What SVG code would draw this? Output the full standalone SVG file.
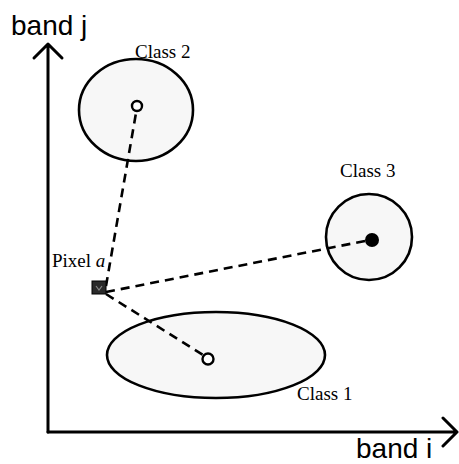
<svg xmlns="http://www.w3.org/2000/svg" width="459" height="464" viewBox="0 0 459 464">
<style>
.axis{stroke:#000;stroke-width:3;fill:none;stroke-linecap:round;stroke-linejoin:round}
.cls{fill:#f7f7f7;stroke:#000;stroke-width:2.6}
.dash{stroke:#000;stroke-width:2.6;stroke-dasharray:9 6;fill:none}
.ctr{fill:#fff;stroke:#000;stroke-width:2.4}
.lbl{font-family:"Liberation Serif",serif;font-size:19px;fill:#000}
.ax{font-family:"Liberation Sans",Arial,sans-serif;font-size:28px;fill:#000}
</style>
<rect width="459" height="464" fill="#fff"/>
<g id="axes">
<path class="axis" d="M48 432 V44 M34 58 L48 44 L62 58"/>
<path class="axis" d="M48 432 H457 M443 418 L457 432 L443 446"/>
<text class="ax" x="11" y="35">band j</text>
<text class="ax" x="356" y="458">band i</text>
</g>
<g id="class2">
<ellipse class="cls" cx="136" cy="110" rx="57" ry="51"/>
<text class="lbl" x="135" y="58">Class 2</text>
</g>
<g id="class3">
<circle class="cls" cx="369" cy="237" r="43"/>
<text class="lbl" x="340" y="177">Class 3</text>
</g>
<g id="class1">
<ellipse class="cls" cx="216" cy="355" rx="109" ry="43"/>
<text class="lbl" x="297" y="400">Class 1</text>
</g>
<g id="connectors">
<path class="dash" d="M106 286 L136 113"/>
<path class="dash" d="M106 292 L370 240"/>
<path class="dash" d="M106 294 L203 355"/>
</g>
<g id="centers">
<circle class="ctr" cx="137" cy="106" r="5"/>
<circle cx="372" cy="240" r="7" fill="#000"/>
<circle class="ctr" cx="208" cy="359" r="5.5"/>
</g>
<g id="pixel-a">
<rect x="92" y="281" width="14" height="13" fill="#2a2a2a" stroke="#000" stroke-width="1"/>
<path d="M96 286 l3 4 l3 -4" stroke="#888" stroke-width="1.2" fill="none"/>
<text class="lbl" x="52" y="267">Pixel <tspan font-style="italic">a</tspan></text>
</g>
</svg>
